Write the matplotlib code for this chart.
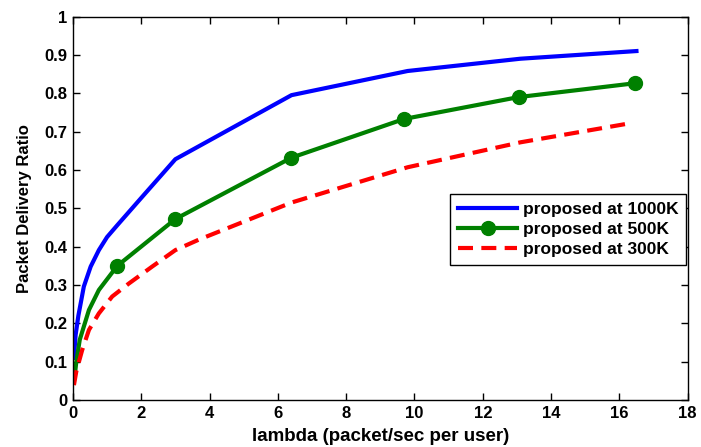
import numpy as np
import matplotlib.pyplot as plt

plt.rcParams['font.family'] = ['Liberation Sans', 'DejaVu Sans']
plt.rcParams['font.weight'] = 'bold'

# data
x_1000k = [0.03, 0.08, 0.16, 0.32, 0.52, 0.76, 1.0, 1.3, 2.0, 3.0, 6.4, 9.8, 13.1, 16.5]
y_1000k = [0.11, 0.17, 0.22, 0.296, 0.348, 0.391, 0.425, 0.456, 0.527, 0.628, 0.795, 0.858, 0.89, 0.91]

x_500k = [0.05, 0.1, 0.2, 0.47, 0.76, 1.3, 3.0, 6.4, 9.7, 13.05, 16.45]
y_500k = [0.06, 0.1, 0.157, 0.235, 0.287, 0.35, 0.472, 0.632, 0.733, 0.79, 0.826]
marker_idx_500k = [5, 6, 7, 8, 9, 10]

x_300k = [0.03, 0.1, 0.27, 0.47, 0.76, 1.15, 1.64, 2.32, 3.0, 3.68, 6.4, 9.8, 13.1, 16.2]
y_300k = [0.039, 0.075, 0.13, 0.183, 0.226, 0.27, 0.304, 0.348, 0.391, 0.418, 0.515, 0.607, 0.672, 0.72]

labels = ['proposed at 1000K', 'proposed at 500K', 'proposed at 300K']
xticks = list(range(0, 19, 2))
yticks = [i / 10 for i in range(11)]

fig = plt.figure(figsize=(7.01, 4.47), dpi=100)
ax = fig.add_axes([0.104, 0.105, 0.877, 0.858])

ax.plot(x_1000k, y_1000k, color='#0000ff', lw=3, label=labels[0])
ax.plot(x_500k, y_500k, color='#008000', lw=3, marker='o', markersize=10,
        markevery=marker_idx_500k, label=labels[1])
ax.plot(x_300k, y_300k, color='#ff0000', lw=3, ls=(0, (3.6, 2.0)), label=labels[2])

ax.set_xlim(0, 18)
ax.set_ylim(0, 1)
ax.set_xticks(xticks)
ax.set_yticks(yticks)
ax.set_yticklabels(['0' if v == 0 else ('1' if v == 1 else '%.1f' % v) for v in yticks])
ax.tick_params(direction='in', top=True, right=True, labelsize=12, length=5, width=1, pad=4)
for s in ax.spines.values():
    s.set_linewidth(1)

ax.set_xlabel('lambda (packet/sec per user)', fontsize=13.5, fontweight='bold', labelpad=5)
ax.set_ylabel('Packet Delivery Ratio', fontsize=12, fontweight='bold', labelpad=9)

leg = ax.legend(loc='center right', bbox_to_anchor=(1.0, 0.445), fontsize=12.5,
                fancybox=False, framealpha=1, edgecolor='black', handlelength=3.4,
                borderpad=0.45, labelspacing=0.28, handletextpad=0.3, borderaxespad=0.1)
leg.get_frame().set_linewidth(1)

fig.savefig('out.png', dpi=100)
